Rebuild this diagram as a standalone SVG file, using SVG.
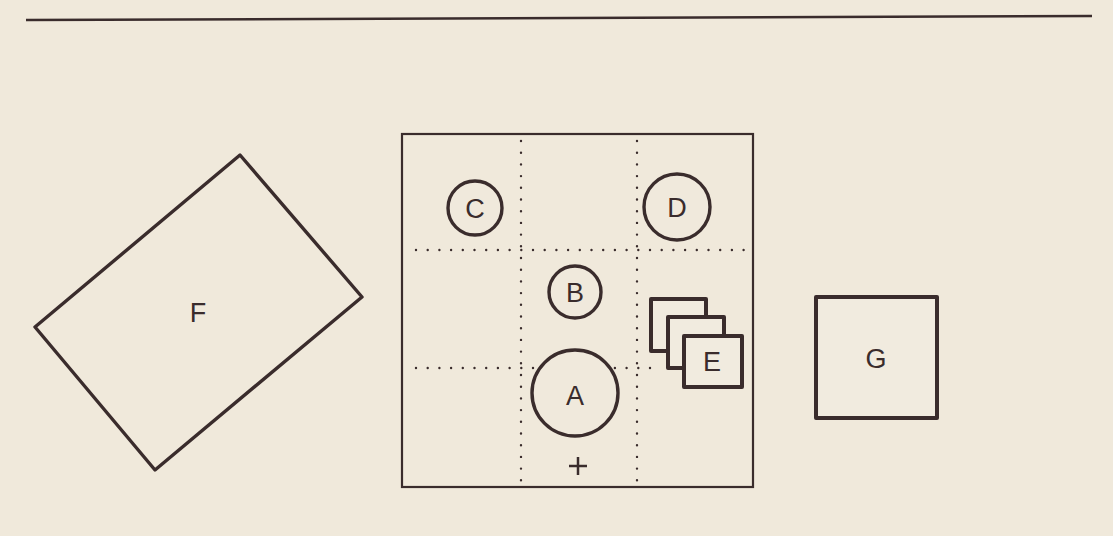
<svg xmlns="http://www.w3.org/2000/svg" width="1113" height="536" viewBox="0 0 1113 536">
  <style>
    .ln { fill: none; stroke: #3a2c2c; stroke-width: 3.4; stroke-linejoin: round; }
    .disc { fill: #f0e9dc; stroke: #3a2c2c; stroke-width: 3.4; }
    .thin { fill: none; stroke: #3a2c2c; stroke-width: 2.2; }
    .dot { fill: none; stroke: #3a2c2c; stroke-width: 2.4; stroke-linecap: round; stroke-dasharray: 0 11.7; }
    .box { fill: #f1ebdf; stroke: #3a2c2c; stroke-width: 4; stroke-linejoin: round; }
    .lbl { font-family: "Liberation Sans", Arial, sans-serif; font-size: 27px; fill: #3a2c2c; text-anchor: middle; dominant-baseline: central; }
  </style>
  <rect width="1113" height="536" fill="#f0e9db"/>

  <!-- header rule -->
  <line x1="26" y1="20" x2="1092" y2="16" stroke="#3a2c2c" stroke-width="2.5"/>

  <!-- frame with dotted 3x3 grid -->
  <g id="grid">
    <rect x="402" y="134" width="351" height="353" class="thin"/>
    <line x1="521" y1="141" x2="521" y2="482" class="dot"/>
    <line x1="637" y1="141" x2="637" y2="482" class="dot"/>
    <line x1="416" y1="250" x2="750" y2="250" class="dot"/>
    <line x1="416" y1="368" x2="660" y2="368" class="dot"/>
  </g>

  <g id="node-F">
    <polygon points="240,155 362,297 155,470 35,327" class="ln"/>
    <text x="198" y="313" class="lbl">F</text>
  </g>

  <g id="node-C">
    <circle cx="475" cy="208" r="27" class="disc"/>
    <text x="475" y="209" class="lbl">C</text>
  </g>

  <g id="node-D">
    <circle cx="677" cy="207" r="33" class="disc"/>
    <text x="677" y="208" class="lbl">D</text>
  </g>

  <g id="node-B">
    <circle cx="575" cy="292" r="26" class="disc"/>
    <text x="575" y="293" class="lbl">B</text>
  </g>

  <g id="node-A">
    <circle cx="575" cy="393" r="43" class="disc"/>
    <text x="575" y="396" class="lbl">A</text>
  </g>

  <g id="origin-mark">
    <line x1="569" y1="466" x2="587" y2="466" stroke="#3a2c2c" stroke-width="2.5"/>
    <line x1="578" y1="457" x2="578" y2="475" stroke="#3a2c2c" stroke-width="2.5"/>
  </g>

  <g id="node-E">
    <rect x="651" y="299" width="55" height="52" class="box"/>
    <rect x="668" y="317" width="56" height="51" class="box"/>
    <rect x="684" y="336" width="58" height="51" class="box"/>
    <text x="712" y="362" class="lbl">E</text>
  </g>

  <g id="node-G">
    <rect x="816" y="297" width="121" height="121" class="box" stroke-width="3.6"/>
    <text x="876" y="359" class="lbl">G</text>
  </g>

  <g id="connectors"></g>
</svg>
